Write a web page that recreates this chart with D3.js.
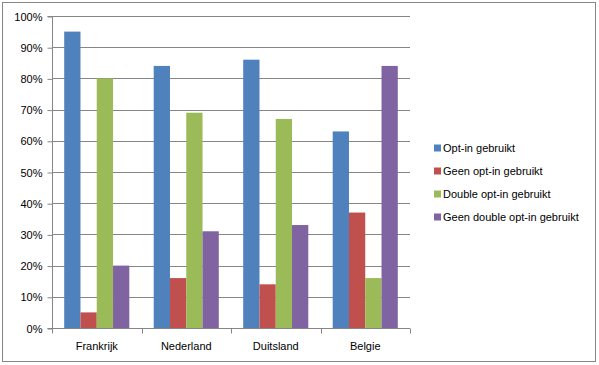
<!DOCTYPE html>
<html>
<head>
<meta charset="utf-8">
<script src="https://cdn.jsdelivr.net/npm/d3@7"></script>
<style>
  body { margin: 0; background: #fff; }
  text { font-family: "Liberation Sans", Arial, sans-serif; font-size: 11px; fill: #000; }
</style>
</head>
<body>
<script>
const categories = ['Frankrijk', 'Nederland', 'Duitsland', 'Belgie'];
const seriesNames = ['Opt-in gebruikt', 'Geen opt-in gebruikt', 'Double opt-in gebruikt', 'Geen double opt-in gebruikt'];
const optIn = [0.95, 0.84, 0.86, 0.63];
const geenOptIn = [0.05, 0.16, 0.14, 0.37];
const doubleOptIn = [0.80, 0.69, 0.67, 0.16];
const geenDoubleOptIn = [0.20, 0.31, 0.33, 0.84];
const yTicks = [0, 0.1, 0.2, 0.3, 0.4, 0.5, 0.6, 0.7, 0.8, 0.9, 1.0];
const colors = ['#4f81bd', '#c0504d', '#9bbb59', '#8064a2'];

const allSeries = [optIn, geenOptIn, doubleOptIn, geenDoubleOptIn];

// SVG parameters
const svgWidth = 599;
const svgHeight = 365;
const plot = { left: 52, right: 410, top: 16, bottom: 328 };

const svg = d3.select('body')
  .append('svg')
  .attr('width', svgWidth)
  .attr('height', svgHeight);

// chart border
svg.append('rect')
  .attr('x', 2.5).attr('y', 2.5)
  .attr('width', 593).attr('height', 359)
  .attr('fill', '#fff')
  .attr('stroke', '#868686');

// Scaling
const xScale = d3.scaleBand()
  .domain(categories)
  .range([plot.left, plot.right])
  .paddingInner(0)
  .paddingOuter(0);

const barScale = d3.scaleBand()
  .domain(d3.range(4))
  .range([0, xScale.bandwidth()])
  .paddingOuter(0.75)
  .paddingInner(0);

const yScale = d3.scaleLinear()
  .domain([0, 1])
  .range([plot.bottom, plot.top]);

// gridlines
svg.append('g')
  .selectAll('line')
  .data(yTicks.slice(1))
  .enter()
  .append('line')
  .attr('x1', plot.left)
  .attr('x2', plot.right)
  .attr('y1', d => Math.round(yScale(d)) + 0.5)
  .attr('y2', d => Math.round(yScale(d)) + 0.5)
  .attr('stroke', '#868686');

// bars
allSeries.forEach((vals, s) => {
  svg.append('g')
    .selectAll('rect')
    .data(vals)
    .enter()
    .append('rect')
    .attr('x', (d, i) => xScale(categories[i]) + barScale(s))
    .attr('width', barScale.bandwidth())
    .attr('y', d => yScale(d))
    .attr('height', d => plot.bottom - yScale(d))
    .attr('fill', colors[s]);
});

// axes
const yAxis = d3.axisLeft(yScale)
  .tickValues(yTicks)
  .tickFormat(d3.format('.0%'))
  .tickSize(5)
  .tickPadding(5);

const gy = svg.append('g')
  .attr('transform', `translate(${plot.left + 0.5}, 0.5)`)
  .call(yAxis);

const xAxis = d3.axisBottom(xScale)
  .tickSize(0)
  .tickPadding(14);

const gx = svg.append('g')
  .attr('transform', `translate(0, ${plot.bottom + 0.5})`)
  .call(xAxis);

// category boundary ticks
gx.selectAll('.bound')
  .data(d3.range(categories.length + 1))
  .enter()
  .append('line')
  .attr('class', 'bound')
  .attr('x1', i => Math.round(plot.left + i * xScale.step()) + 0.5)
  .attr('x2', i => Math.round(plot.left + i * xScale.step()) + 0.5)
  .attr('y1', 0)
  .attr('y2', 5)
  .attr('stroke', '#868686');

svg.selectAll('.domain').attr('stroke', '#868686');
svg.selectAll('.tick line').attr('stroke', '#868686');
svg.selectAll('.tick text')
  .style('font-family', '"Liberation Sans", Arial, sans-serif')
  .style('font-size', '11px')
  .attr('fill', '#000');
gy.select('.domain').attr('d', `M-5,${plot.top}H0V${plot.bottom}H-5`);
gx.select('.domain').attr('d', `M${plot.left},0H${plot.right}`);

// legend
const legend = svg.append('g')
  .selectAll('g')
  .data(seriesNames)
  .enter()
  .append('g')
  .attr('transform', (d, i) => `translate(434, ${148 + i * 23})`);

legend.append('rect')
  .attr('x', 0).attr('y', -3.5)
  .attr('width', 7).attr('height', 7)
  .attr('fill', (d, i) => colors[i]);

legend.append('text')
  .attr('x', 9)
  .attr('y', 4)
  .text(d => d);
</script>
</body>
</html>
